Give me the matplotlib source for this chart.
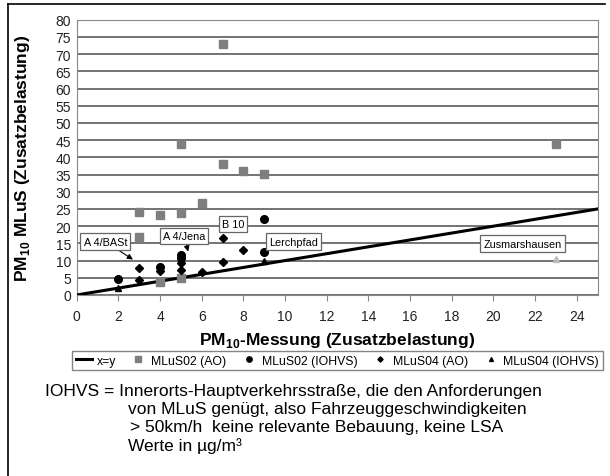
import matplotlib
matplotlib.use("Agg")
import matplotlib.pyplot as plt
from matplotlib.lines import Line2D

plt.rcParams['font.family'] = ['Liberation Sans', 'DejaVu Sans']
plt.rcParams['mathtext.fontset'] = 'custom'
plt.rcParams['mathtext.rm'] = 'Liberation Sans'
plt.rcParams['mathtext.bf'] = 'Liberation Sans:bold'

# data
ao02_x = [3, 3, 4, 5, 5, 6, 7, 7, 8, 9, 23, 4, 5]
ao02_y = [24, 16.8, 23.3, 43.8, 23.8, 26.6, 73, 38, 36, 35.3, 44, 3.7, 4.8]
iohvs02_x = [2, 4, 5, 5, 9, 9]
iohvs02_y = [4.6, 8.2, 11.6, 10.8, 22.2, 12.4]
ao04_x = [3, 3, 4, 5, 5, 6, 7, 7, 8]
ao04_y = [7.8, 4.3, 7.0, 9.4, 7.3, 6.8, 16.5, 9.5, 13]
iohvs04_x = [2, 9, 23]
iohvs04_y = [2.0, 10.0, 10.5]
diag = [0, 25]

labels = ["A 4/BASt", "A 4/Jena", "B 10", "Lerchpfad", "Zusmarshausen"]
label_xy = [(1.38, 15.5), (5.15, 17.2), (7.5, 20.6), (10.4, 15.5), (21.4, 14.9)]
arrow_to = [(2.7, 10.3), (5.35, 12.6), None, None, None]

fig = plt.figure(figsize=(6.1, 4.77), dpi=100)
ax = fig.add_axes([0.1257, 0.3795, 0.8541, 0.5771])

ax.set_xlim(0, 25)
ax.set_ylim(0, 80)
ax.set_xticks(range(0, 25, 2))
ax.set_yticks(range(0, 81, 5))
ax.grid(axis='y', color='#4d4d4d', lw=1.1)
ax.set_axisbelow(True)
for s in ax.spines.values():
    s.set_color('#888888')
ax.tick_params(axis='x', length=4, color='#888888', labelsize=10, labelcolor='#222222', pad=6)
ax.tick_params(axis='y', length=0, labelsize=10, labelcolor='#222222', pad=4)

l_diag, = ax.plot(diag, diag, color='black', lw=2.2, zorder=3)
s1, = ax.plot(ao02_x, ao02_y, 's', color='#7f7f7f', ms=5.5, ls='none', zorder=4)
s2, = ax.plot(iohvs02_x, iohvs02_y, 'o', color='black', ms=5.5, ls='none', zorder=4)
s3, = ax.plot(ao04_x, ao04_y, 'D', color='black', ms=3.8, ls='none', zorder=4)
s4, = ax.plot(iohvs04_x[:2], iohvs04_y[:2], '^', color='black', ms=4, ls='none', zorder=4)
ax.plot(iohvs04_x[2:], iohvs04_y[2:], '^', color='#bbbbbb', ms=4, ls='none', zorder=4)

for txt, xy, tgt in zip(labels, label_xy, arrow_to):
    bbox = dict(boxstyle='square,pad=0.3', fc='white', ec='#666666', lw=0.9)
    if tgt is None:
        ax.text(xy[0], xy[1], txt, fontsize=7.8, ha='center', va='center', bbox=bbox, zorder=5)
    else:
        ax.annotate(txt, xy=tgt, xytext=xy, fontsize=7.8, ha='center', va='center', bbox=bbox,
                    arrowprops=dict(arrowstyle='-|>', color='black', lw=0.8, mutation_scale=8,
                                    shrinkA=0, shrinkB=0), zorder=5)

ax.set_ylabel(r"PM$_{\mathbf{10}}$ MLuS (Zusatzbelastung)", fontsize=12.5, fontweight='bold')
ax.yaxis.set_label_coords(-0.085, 0.5)
ax.set_xlabel(r"PM$_{\mathbf{10}}$-Messung (Zusatzbelastung)", fontsize=12.5, fontweight='bold', labelpad=5)

leg = fig.legend([l_diag, s1, s2, s3, s4],
                 ["x=y", "MLuS02 (AO)", "MLuS02 (IOHVS)", "MLuS04 (AO)", "MLuS04 (IOHVS)"],
                 ncol=5, loc='center', bbox_to_anchor=(0.553, 0.242), fontsize=8.8,
                 frameon=True, fancybox=False, edgecolor='#666666', handlelength=1.3,
                 handletextpad=0.4, columnspacing=1.2, borderpad=0.3, markerscale=0.7)
leg.get_frame().set_linewidth(1.0)

fig.text(0.074, 0.18, "IOHVS = Innerorts-Hauptverkehrsstraße, die den Anforderungen", fontsize=12.5, va='center')
fig.text(0.21, 0.142, "von MLuS genügt, also Fahrzeuggeschwindigkeiten", fontsize=12.5, va='center')
fig.text(0.213, 0.103, "> 50km/h  keine relevante Bebauung, keine LSA", fontsize=12.5, va='center')
fig.text(0.21, 0.065, "Werte in µg/m³", fontsize=12.5, va='center')

# outer frame (left and top edges)
fig.add_artist(Line2D([0.013, 0.013], [0.0, 0.9895], color='black', lw=1.2, transform=fig.transFigure))
fig.add_artist(Line2D([0.013, 0.992], [0.9895, 0.9895], color='black', lw=1.2, transform=fig.transFigure))

fig.savefig("out.png", dpi=100)
